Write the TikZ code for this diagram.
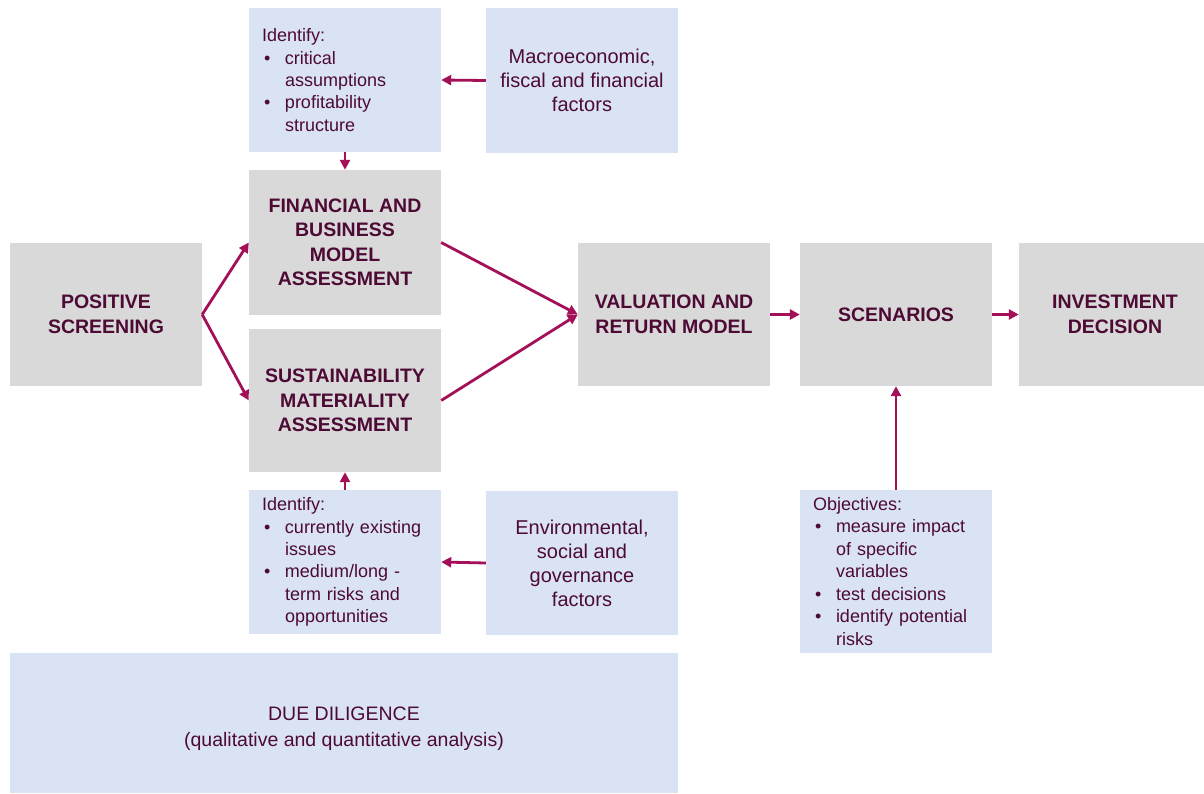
\documentclass[tikz,border=0pt]{standalone}
\usepackage{fontspec}
\setmainfont{Liberation Sans}
\usetikzlibrary{arrows.meta}
\definecolor{txt}{RGB}{77,10,52}
\definecolor{arr}{RGB}{163,16,88}
\definecolor{gbox}{RGB}{217,217,217}
\definecolor{bbox}{RGB}{218,227,243}
\newcommand{\bitem}[1]{\makebox[23pt][l]{\hspace{2pt}\textbullet}#1}
\newcommand{\bcont}[1]{\hspace*{23pt}#1}
\begin{document}
\begin{tikzpicture}[x=1pt,y=-1pt,
 graybox/.style={fill=gbox, draw=none, minimum width=192pt, minimum height=144pt, inner sep=0pt, text=txt, align=center, font=\bfseries\fontsize{19.5}{24.5}\selectfont},
 bluebox/.style={fill=bbox, draw=none, minimum width=192pt, minimum height=144pt, inner sep=0pt, text=txt, align=center, font=\fontsize{20}{24}\selectfont},
 listbox/.style={fill=bbox, draw=none, text width=166pt, inner xsep=13pt, inner ysep=0pt, minimum width=192pt, minimum height=144pt, text=txt, align=left, font=\fontsize{18}{22.3}\selectfont},
 flow/.style={draw=arr, line width=2.8pt, -{Triangle[length=10pt,width=10pt]}}]
\useasboundingbox (0,0) rectangle (1204,794);
\clip (0,0) rectangle (1204,794);

\node[graybox, minimum height=143pt] (pos) at (106,314.5) {POSITIVE\\SCREENING};
\node[graybox, minimum height=145pt] (fin) at (345,242.5) {FINANCIAL AND\\BUSINESS\\MODEL\\ASSESSMENT};
\node[graybox, minimum height=143pt] (sus) at (345,400.5) {SUSTAINABILITY\\MATERIALITY\\ASSESSMENT};
\node[graybox, minimum height=143pt] (val) at (674,314.5) {VALUATION AND\\RETURN MODEL};
\node[graybox, minimum height=143pt] (sce) at (896,314.5) {SCENARIOS};
\node[graybox, minimum height=143pt] (inv) at (1115,314.5) {INVESTMENT\\DECISION};

\node[listbox] (idt) at (345,80) {Identify:\\\bitem{critical}\\\bcont{assumptions}\\\bitem{profitability}\\\bcont{structure}};
\node[bluebox, minimum height=145pt] (mac) at (582,80.5) {Macroeconomic,\\fiscal and financial\\factors};
\node[listbox] (idb) at (345,562) {Identify:\\\bitem{currently existing}\\\bcont{issues}\\\bitem{medium/long -}\\\bcont{term risks and}\\\bcont{opportunities}};
\node[bluebox] (env) at (582,563) {Environmental,\\social and\\governance\\factors};
\node[listbox, minimum height=163pt, font=\fontsize{18}{22.5}\selectfont] (obj) at (896,571.5) {Objectives:\\\bitem{measure impact}\\\bcont{of specific}\\\bcont{variables}\\\bitem{test decisions}\\\bitem{identify potential}\\\bcont{risks}};
\node[bluebox, minimum width=668pt, minimum height=140pt] (dd) at (344,723) {};
\node[text=txt, align=center, inner sep=0pt, font=\fontsize{19.5}{26}\selectfont] (ddtext) at (344,729) {DUE DILIGENCE\\(qualitative and quantitative analysis)};

\draw[flow] (pos.east) -- (fin.west);
\draw[flow] (pos.east) -- (sus.west);
\draw[flow] (fin.east) -- (val.west);
\draw[flow] (sus.east) -- (val.west);
\draw[flow] (val.east) -- (sce.west);
\draw[flow] (sce.east) -- (inv.west);
\draw[flow] (obj.north) -- (sce.south);
\draw[flow] (mac.west) -- (idt.east);
\draw[flow] (idt.south) -- (fin.north);
\draw[flow] (idb.north) -- (sus.south);
\draw[flow] (env.west) -- (idb.east);
\end{tikzpicture}
\end{document}
